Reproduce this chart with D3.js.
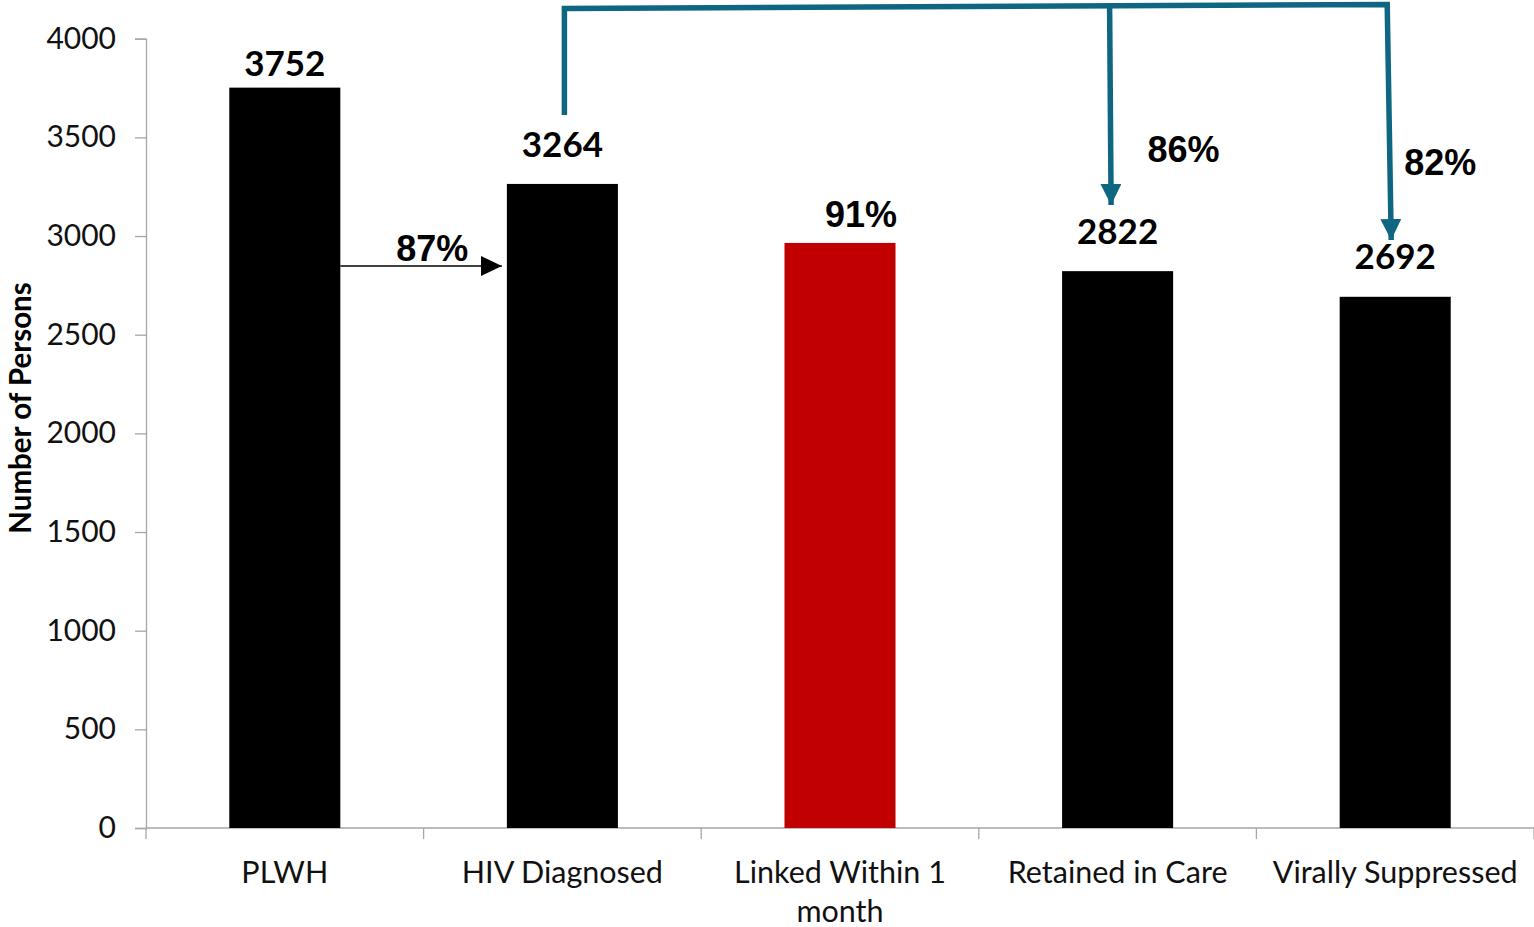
<!DOCTYPE html>
<html>
<head>
<meta charset="utf-8">
<script src="https://cdn.jsdelivr.net/npm/d3@7/dist/d3.min.js"></script>
<style>
  html, body { margin: 0; padding: 0; background: #fff; }
  svg { display: block; }
</style>
</head>
<body>
<svg id="chart" width="1534" height="927"></svg>
<script>
// ---- data ----
const categories = ["PLWH", "HIV Diagnosed", "Linked Within 1 month", "Retained in Care", "Virally Suppressed"];
const values = [3752, 3264, 2965, 2822, 2692];
const valueLabels = ["3752", "3264", "", "2822", "2692"];
const barColors = ["#000000", "#000000", "#c00000", "#000000", "#000000"];
const yTicks = [0, 500, 1000, 1500, 2000, 2500, 3000, 3500, 4000];
const pctLabels = ["87%", "91%", "86%", "82%"];
const yTitle = "Number of Persons";

// ---- layout ----
const W = 1534, H = 927;
const plotLeft = 146, plotRight = 1534, plotTop = 38.7, plotBottom = 828;
const svg = d3.select("#chart");
const axisColor = "#a6a6a6";
const teal = "#0e6680";
const labelFont = "Lato, 'Open Sans', sans-serif";
const pctFont = "'Liberation Sans', Arial, sans-serif";

const x = d3.scaleBand().domain(categories).range([plotLeft, plotRight])
  .paddingInner(0.6).paddingOuter(0.3);
const y = d3.scaleLinear().domain([0, 4000]).range([plotBottom, plotTop]);
const bw = x.bandwidth();
const step = x.step();
const cx = c => x(c) + bw / 2;

// y axis
const yAxis = svg.append("g").attr("transform", `translate(${plotLeft},0)`)
  .call(d3.axisLeft(y).tickValues(yTicks).tickSize(11).tickPadding(19).tickFormat(d3.format("d")));
yAxis.select(".domain").attr("stroke", axisColor).attr("stroke-width", 1.3);
yAxis.selectAll(".tick line").attr("stroke", axisColor).attr("stroke-width", 1.3);
yAxis.selectAll(".tick text").attr("font-family", labelFont).attr("font-size", 30).attr("fill", "#111");

// x axis line & boundary ticks
svg.append("line").attr("x1", plotLeft).attr("x2", plotRight).attr("y1", y(0)).attr("y2", y(0))
  .attr("stroke", axisColor).attr("stroke-width", 1.3);
svg.selectAll(".xb").data(d3.range(categories.length + 1)).join("line")
  .attr("x1", i => plotLeft + i * step).attr("x2", i => plotLeft + i * step)
  .attr("y1", y(0)).attr("y2", y(0) + 11)
  .attr("stroke", axisColor).attr("stroke-width", 1.3);

// bars
svg.selectAll(".bar").data(categories).join("rect")
  .attr("x", c => x(c)).attr("width", bw)
  .attr("y", (c, i) => y(values[i])).attr("height", (c, i) => y(0) - y(values[i]))
  .attr("fill", (c, i) => barColors[i]);

// category labels (wrapped)
const catG = svg.append("g");
categories.forEach(c => {
  const t = catG.append("text").attr("x", cx(c)).attr("y", 883)
    .attr("text-anchor", "middle").attr("font-family", labelFont).attr("font-size", 30.5).attr("fill", "#111");
  const words = c.split(" ");
  let line = [];
  let tspan = t.append("tspan").attr("x", cx(c)).attr("dy", 0);
  words.forEach(w => {
    line.push(w);
    tspan.text(line.join(" "));
    if (tspan.node().getComputedTextLength() > step * 0.95 && line.length > 1) {
      line.pop();
      tspan.text(line.join(" "));
      line = [w];
      tspan = t.append("tspan").attr("x", cx(c)).attr("dy", 39).text(w);
    }
  });
});

// value labels
const labelLift = [12, 27, 27, 27, 28];
svg.selectAll(".vl").data(categories).join("text")
  .attr("x", c => cx(c)).attr("y", (c, i) => y(values[i]) - labelLift[i])
  .attr("text-anchor", "middle").attr("font-family", labelFont).attr("font-weight", 700)
  .attr("font-size", 35).attr("fill", "#000")
  .text((c, i) => valueLabels[i]);

// y title
svg.append("text").attr("transform", `translate(31,408) rotate(-90)`)
  .attr("text-anchor", "middle").attr("font-family", labelFont).attr("font-weight", 700)
  .attr("font-size", 29.5).attr("fill", "#000").text(yTitle);

// defs: arrowheads
const defs = svg.append("defs");
defs.append("marker").attr("id", "blackHead").attr("viewBox", "0 0 21 20")
  .attr("refX", 21).attr("refY", 10).attr("markerWidth", 21).attr("markerHeight", 20)
  .attr("markerUnits", "userSpaceOnUse").attr("orient", "auto")
  .append("path").attr("d", "M0,0 L21,10 L0,20 Z").attr("fill", "#000");
defs.append("marker").attr("id", "tealHead").attr("viewBox", "0 0 21 21")
  .attr("refX", 21).attr("refY", 10.5).attr("markerWidth", 21).attr("markerHeight", 21)
  .attr("markerUnits", "userSpaceOnUse").attr("orient", "auto")
  .append("path").attr("d", "M0,0 L21,10.5 L0,21 Z").attr("fill", teal);

// black arrow PLWH -> HIV Diagnosed
const c0 = categories[0], c1 = categories[1], c2 = categories[2], c3 = categories[3], c4 = categories[4];
const arrowY = 266;
svg.append("line").attr("x1", x(c0) + bw).attr("x2", x(c1) - 5)
  .attr("y1", arrowY).attr("y2", arrowY)
  .attr("stroke", "#000").attr("stroke-width", 1.5).attr("marker-end", "url(#blackHead)");

// teal bracket
const leftX = cx(c1) + 2, midX = cx(c3) - 8, rightX = cx(c4) - 8;
svg.append("path")
  .attr("d", `M${leftX},${y(3264) - 69} L${leftX},8.5 L${rightX},4.5 L${rightX + 4},240`)
  .attr("fill", "none").attr("stroke", teal).attr("stroke-width", 5.5).attr("stroke-linejoin", "miter")
  .attr("marker-end", "url(#tealHead)");
svg.append("line").attr("x1", midX).attr("y1", 6.5).attr("x2", midX + 1.5).attr("y2", 205)
  .attr("stroke", teal).attr("stroke-width", 5.5).attr("marker-end", "url(#tealHead)");

// percent labels
const pctPos = [
  [x(c0) + bw + 92, 261],
  [cx(c2) + 21, 227],
  [cx(c3) + 66, 162],
  [cx(c4) + 45, 175]
];
svg.selectAll(".pl").data(pctLabels).join("text")
  .attr("x", (d, i) => pctPos[i][0]).attr("y", (d, i) => pctPos[i][1])
  .attr("text-anchor", "middle").attr("font-family", pctFont).attr("font-weight", 700)
  .attr("font-size", 36).attr("fill", "#000").text(d => d);
</script>
</body>
</html>
